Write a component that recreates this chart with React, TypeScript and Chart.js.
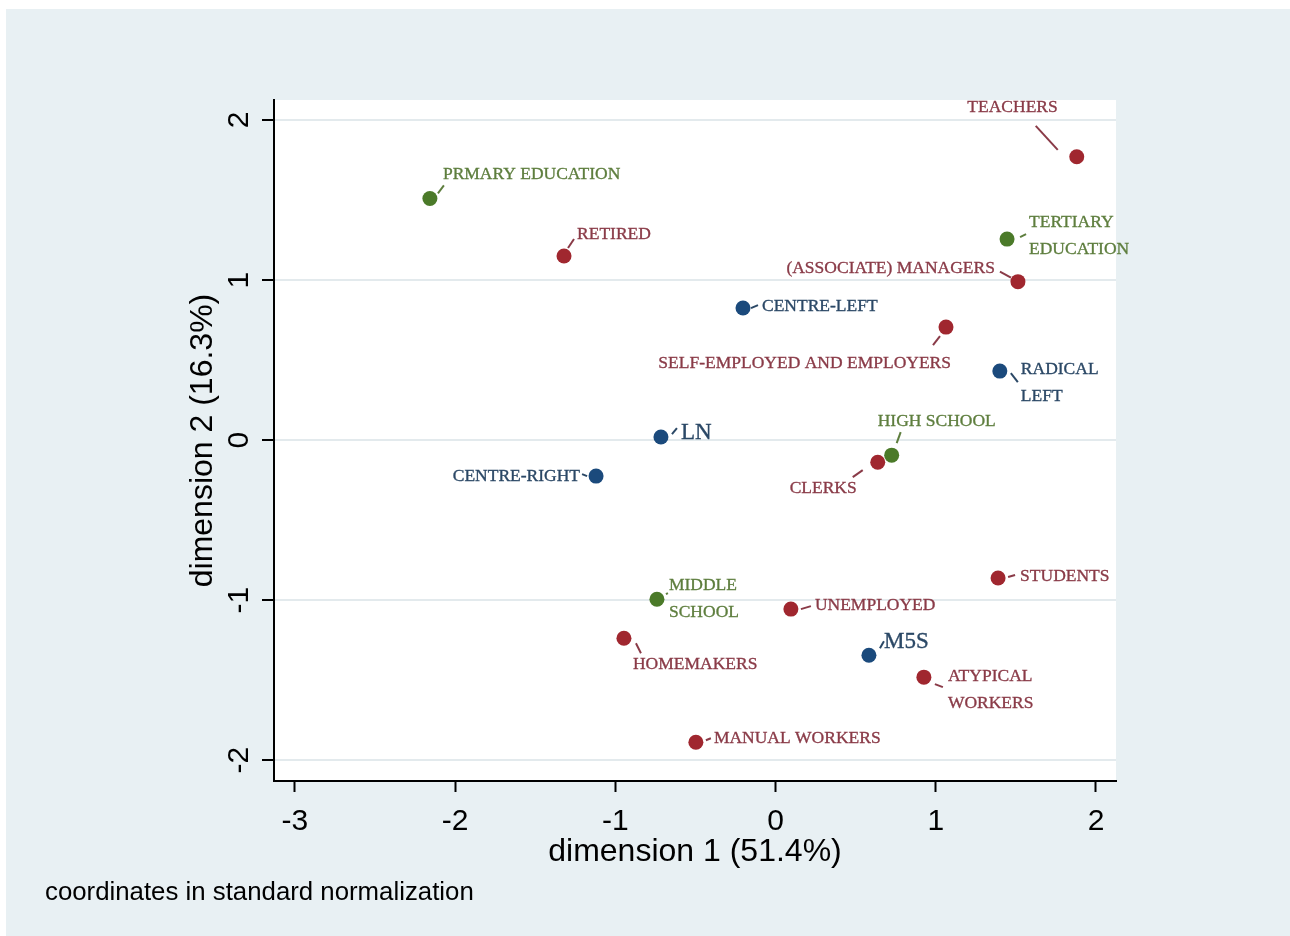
import React, { useEffect, useRef } from "react";
import { Chart, registerables } from "chart.js";

Chart.register(...registerables);

// ---- Data ----
const occupationLabels = [
  "TEACHERS",
  "RETIRED",
  "(ASSOCIATE) MANAGERS",
  "SELF-EMPLOYED AND EMPLOYERS",
  "CLERKS",
  "STUDENTS",
  "UNEMPLOYED",
  "HOMEMAKERS",
  "ATYPICAL\nWORKERS",
  "MANUAL WORKERS",
];
const occupationDim1 = [1.88, -1.32, 1.513, 1.064, 0.638, 1.389, 0.096, -0.946, 0.926, -0.497];
const occupationDim2 = [1.77, 1.15, 0.99, 0.706, -0.138, -0.862, -1.056, -1.238, -1.481, -1.888];

const educationLabels = ["PRMARY EDUCATION", "TERTIARY\nEDUCATION", "HIGH SCHOOL", "MIDDLE\nSCHOOL"];
const educationDim1 = [-2.157, 1.445, 0.725, -0.74];
const educationDim2 = [1.51, 1.256, -0.094, -0.994];

const partyLabels = ["CENTRE-LEFT", "RADICAL\nLEFT", "LN", "CENTRE-RIGHT", "M5S"];
const partyDim1 = [-0.203, 1.4, -0.715, -1.12, 0.583];
const partyDim2 = [0.825, 0.431, 0.019, -0.225, -1.344];

const xTickValues = [-3, -2, -1, 0, 1, 2];
const xTickLabels = ["-3", "-2", "-1", "0", "1", "2"];
const yTickValues = [-2, -1, 0, 1, 2];
const yTickLabels = ["-2", "-1", "0", "1", "2"];

const xTitle = "dimension 1 (51.4%)";
const yTitle = "dimension 2 (16.3%)";
const noteText = "coordinates in standard normalization";

// ---- Label placement (layout only): text offset, alignment, connector, font size ----
type Place = { dx: number; dy: number; align: "left" | "right"; c: number[]; size?: number };
const occupationPlace: Place[] = [
  { dx: -19, dy: -49, align: "right", c: [-41, -31, -19, -7] },
  { dx: 13, dy: -22, align: "left", c: [4, -8, 10, -17] },
  { dx: -23, dy: -13, align: "right", c: [-18, -10, -7, -4] },
  { dx: 5, dy: 36, align: "right", c: [-13, 18, -6, 9] },
  { dx: -21, dy: 26, align: "right", c: [-25, 15, -15, 8] },
  { dx: 22, dy: -2, align: "left", c: [10, -1, 17, -3] },
  { dx: 24, dy: -4, align: "left", c: [10, 0, 20, -3] },
  { dx: 9, dy: 26, align: "left", c: [12, 5, 17, 15] },
  { dx: 24, dy: -1, align: "left", c: [11, 7, 19, 10] },
  { dx: 18, dy: -4, align: "left", c: [10, -2, 15, -4] },
];
const educationPlace: Place[] = [
  { dx: 13, dy: -24, align: "left", c: [8, -5, 14, -13] },
  { dx: 22, dy: -17, align: "left", c: [13, -2, 19, -5] },
  { dx: -14, dy: -34, align: "left", c: [5, -12, 9, -23] },
  { dx: 12, dy: -14, align: "left", c: [9, -5, 11, -6] },
];
const partyPlace: Place[] = [
  { dx: 19, dy: -2, align: "left", c: [8, 0, 15, -3] },
  { dx: 21, dy: -2, align: "left", c: [11, 2, 18, 11] },
  { dx: 20, dy: -4, align: "left", c: [11, -3, 16, -9], size: 23 },
  { dx: -16, dy: 0, align: "right", c: [-14, -2, -9, 0] },
  { dx: 15, dy: -13, align: "left", c: [11, -7, 15, -14], size: 23 },
];

const groups = [
  { labels: occupationLabels, xs: occupationDim1, ys: occupationDim2, place: occupationPlace, marker: "#a0272f", text: "#8a3b48" },
  { labels: educationLabels, xs: educationDim1, ys: educationDim2, place: educationPlace, marker: "#4b7a29", text: "#5e7e3e" },
  { labels: partyLabels, xs: partyDim1, ys: partyDim2, place: partyPlace, marker: "#1b4a7c", text: "#2b4866" },
];

const plotBgPlugin = {
  id: "plotBg",
  beforeDraw(chart: any) {
    const { ctx, chartArea } = chart;
    ctx.save();
    ctx.fillStyle = "#ffffff";
    ctx.fillRect(chartArea.left, chartArea.top, chartArea.right - chartArea.left, chartArea.bottom - chartArea.top);
    ctx.restore();
  },
};

const yTickPlugin = {
  id: "yTickLabels",
  afterDraw(chart: any) {
    const { ctx } = chart;
    const scale = chart.scales.y;
    ctx.save();
    ctx.fillStyle = "#000";
    ctx.font = '30px "Liberation Sans", Arial, sans-serif';
    ctx.textAlign = "center";
    ctx.textBaseline = "middle";
    yTickValues.forEach((v, i) => {
      const py = scale.getPixelForValue(v);
      ctx.save();
      ctx.translate(scale.right - 34, py);
      ctx.rotate(-Math.PI / 2);
      ctx.fillText(yTickLabels[i], 0, 0);
      ctx.restore();
    });
    ctx.restore();
  },
};

const labelPlugin = {
  id: "pointLabels",
  afterDatasetsDraw(chart: any) {
    const { ctx } = chart;
    ctx.save();
    groups.forEach((g, di) => {
      const meta = chart.getDatasetMeta(di);
      meta.data.forEach((el: any, j: number) => {
        const p = g.place[j];
        const x = el.x;
        const y = el.y;
        ctx.strokeStyle = g.text;
        ctx.lineWidth = 2;
        ctx.beginPath();
        ctx.moveTo(x + p.c[0], y + p.c[1]);
        ctx.lineTo(x + p.c[2], y + p.c[3]);
        ctx.stroke();
        ctx.fillStyle = g.text;
        ctx.strokeStyle = g.text;
        ctx.lineWidth = 0.35;
        ctx.font = `${p.size || 17.5}px "Liberation Serif", "Times New Roman", serif`;
        ctx.textAlign = p.align;
        ctx.textBaseline = "middle";
        g.labels[j].split("\n").forEach((line, k) => {
          ctx.fillText(line, x + p.dx, y + p.dy + k * 27);
          ctx.strokeText(line, x + p.dx, y + p.dy + k * 27);
        });
      });
    });
    ctx.restore();
  },
};

export default function App() {
  const canvasRef = useRef<HTMLCanvasElement | null>(null);

  useEffect(() => {
    if (!canvasRef.current) return;
    const datasets = groups.map((g) => ({
      data: g.xs.map((x, i) => ({ x, y: g.ys[i] })),
      backgroundColor: g.marker,
      borderColor: g.marker,
      borderWidth: 0,
      pointRadius: 7.5,
      pointHoverRadius: 7.5,
    }));
    const chart = new Chart(canvasRef.current, {
      type: "scatter",
      data: { datasets },
      options: {
        animation: false,
        responsive: false,
        maintainAspectRatio: false,
        layout: { padding: { left: 178, right: 174, top: 91, bottom: 65 } },
        plugins: { legend: { display: false }, tooltip: { enabled: false } },
        scales: {
          x: {
            type: "linear",
            min: -3.13,
            max: 2.125,
            afterBuildTicks: (s: any) => {
              s.ticks = xTickValues.map((v) => ({ value: v }));
            },
            afterFit: (s: any) => {
              s.height = 90;
            },
            ticks: {
              color: "#000",
              padding: 12,
              font: { family: '"Liberation Sans", Arial, sans-serif', size: 30 },
              callback: (v: any) => {
                const i = xTickValues.indexOf(Number(v));
                return i >= 0 ? xTickLabels[i] : "";
              },
            },
            grid: {
              drawOnChartArea: false,
              drawTicks: true,
              tickLength: 11,
              tickColor: "#000",
              tickWidth: 2,
            },
            border: { display: true, color: "#000", width: 2 },
            title: {
              display: true,
              text: xTitle,
              color: "#000",
              padding: 0,
              font: { family: '"Liberation Sans", Arial, sans-serif', size: 32, lineHeight: 1.2 },
            },
          },
          y: {
            type: "linear",
            min: -2.13,
            max: 2.125,
            afterBuildTicks: (s: any) => {
              s.ticks = yTickValues.map((v) => ({ value: v }));
            },
            afterFit: (s: any) => {
              s.width = 90;
            },
            ticks: { display: false },
            grid: {
              drawOnChartArea: true,
              color: "#e3eaed",
              lineWidth: 2,
              drawTicks: true,
              tickLength: 12,
              tickColor: "#000",
              tickWidth: 2,
            },
            border: { display: true, color: "#000", width: 2 },
            title: {
              display: true,
              text: yTitle,
              color: "#000",
              padding: 0,
              font: { family: '"Liberation Sans", Arial, sans-serif', size: 32, lineHeight: 1.2 },
            },
          },
        },
      },
      plugins: [plotBgPlugin, yTickPlugin, labelPlugin],
    });
    return () => chart.destroy();
  }, []);

  return (
    <div
      style={{
        position: "absolute",
        left: 6,
        top: 9,
        width: 1284,
        height: 927,
        background: "#e8f0f3",
      }}
    >
      <canvas ref={canvasRef} width={1284} height={927} style={{ display: "block" }} />
      <div
        style={{
          position: "absolute",
          left: 39,
          top: 867,
          fontFamily: '"Liberation Sans", Arial, sans-serif',
          fontSize: 25.8,
          lineHeight: "30px",
          color: "#000",
          whiteSpace: "nowrap",
        }}
      >
        {noteText}
      </div>
    </div>
  );
}
